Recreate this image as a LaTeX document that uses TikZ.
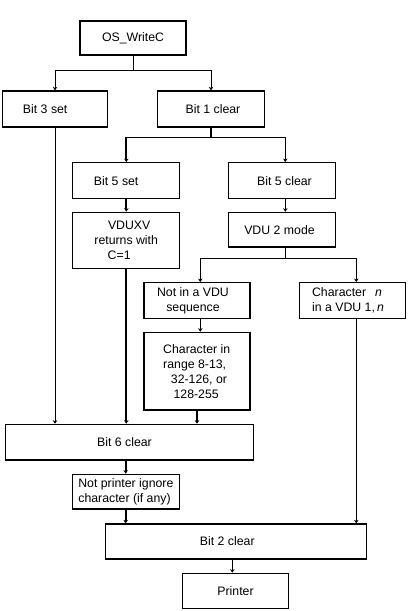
\documentclass[tikz,border=0pt]{standalone}
\usepackage{fontspec}
\setmainfont{Liberation Sans}
\usetikzlibrary{arrows.meta}
\begin{document}
\begin{tikzpicture}[x=1pt,y=-1pt,
  box/.style={draw,line width=1.3pt,inner sep=0pt,align=center,
    font=\fontsize{12.3}{15}\selectfont},
  conn/.style={line width=0.9pt,-{Stealth[length=3.5pt,width=4.5pt]}},
  thk/.style={line width=1.8pt},
  thin/.style={line width=0.9pt}]
\useasboundingbox (0,0) rectangle (408,611);
% boxes (center, width, height)
\node[box,minimum width=106pt,minimum height=34pt] (os) at (133,38) {OS\_WriteC};
\node[box,minimum width=105pt,minimum height=36pt] (b3) at (55.2,109) {\hspace*{-20pt}Bit 3 set};
\node[box,minimum width=106.6pt,minimum height=36pt] (b1) at (211,109) {\hspace*{4pt}Bit 1 clear};
\node[box,minimum width=107pt,minimum height=36pt] (b5s) at (126.2,180.7) {\hspace*{-20pt}Bit 5 set};
\node[box,minimum width=106.6pt,minimum height=36pt] (b5c) at (282,180.7) {\hspace*{5pt}Bit 5 clear};
\node[box,minimum width=107pt,minimum height=56.4pt] (vx) at (126.2,240.5) {\hspace*{6pt}VDUXV\\returns with\\\hspace*{-14pt}C=1};
\node[box,minimum width=106.6pt,minimum height=34.7pt] (v2) at (282,229.7) {\hspace*{-5pt}VDU 2 mode};
\node[box,minimum width=106pt,minimum height=35.6pt] (nv) at (197,300.5) {\hspace*{-8pt}Not in a VDU\\\hspace*{-8pt}sequence};
\node[box,minimum width=106.4pt,minimum height=35.6pt,align=left] (cn) at (352.5,300.5) {Character\hspace{9pt}\textit{n}\\in a VDU 1,\,\textit{n}\hspace*{9pt}};
\node[box,minimum width=106pt,minimum height=77.7pt,align=left] (cr) at (197,371.2) {Character in\\range 8-13,\\\hspace*{7.7pt}32-126, or\\\hspace*{10.4pt}128-255\hspace*{12pt}};
\node[box,minimum width=248pt,minimum height=35.7pt] (b6) at (129.3,442.2) {\hspace*{-9.6pt}Bit 6 clear};
\node[box,minimum width=106.6pt,minimum height=34.7pt,align=left] (np) at (126,491.7) {Not printer ignore\\character (if any)\hspace*{3pt}};
\node[box,minimum width=261.4pt,minimum height=35pt] (b2) at (236,541.5) {\hspace*{-17.4pt}Bit 2 clear};
\node[box,minimum width=105.6pt,minimum height=35pt] (pr) at (235.5,590.8) {Printer};
% junction coordinates
\coordinate (j1) at (133,70.7);
\coordinate (j2) at (211,137.3);
\coordinate (j2l) at (126.3,137.3);
\coordinate (j3) at (285.3,258);
% connectors
\draw[thin] (os.south) -- (j1);
\draw[conn] (j1) -| (b3.north -| 55,0);
\draw[conn] (j1) -| (b1.north -| 211,0);
\draw[thk] (b1.south -| j2) -- (j2);
\draw[thin] (j2) -- (j2l);
\draw[conn,line width=1.8pt] (j2l) -- (b5s.north -| j2l);
\draw[conn] (j2) -| (b5c.north -| 285.3,0);
\draw[conn,line width=1.8pt] (b5s.south -| 126.3,0) -- (vx.north -| 126.3,0);
\draw[conn] (b5c.south -| 285.3,0) -- (v2.north -| 285.3,0);
\draw[thin] (v2.south -| j3) -- (j3);
\draw[conn] (j3) -| (nv.north -| 200.3,0);
\draw[conn] (j3) -| (cn.north -| 356.3,0);
\draw[conn] (nv.south -| 200.3,0) -- (cr.north -| 200.3,0);
\draw[conn] (b3.south -| 55,0) -- (b6.north -| 55,0);
\draw[conn,line width=1.8pt] (vx.south -| 126.3,0) -- (b6.north -| 126.3,0);
\draw[conn,line width=1.8pt] (cr.south -| 197,0) -- (b6.north -| 197,0);
\draw[conn,line width=1.8pt] (b6.south -| 125.7,0) -- (np.north -| 125.7,0);
\draw[conn,line width=1.8pt] (np.south -| 125.7,0) -- (b2.north -| 125.7,0);
\draw[conn] (cn.south -| 356.3,0) -- (b2.north -| 356.3,0);
\draw[conn] (b2.south -| 232.3,0) -- (pr.north -| 232.3,0);
\end{tikzpicture}
\end{document}
